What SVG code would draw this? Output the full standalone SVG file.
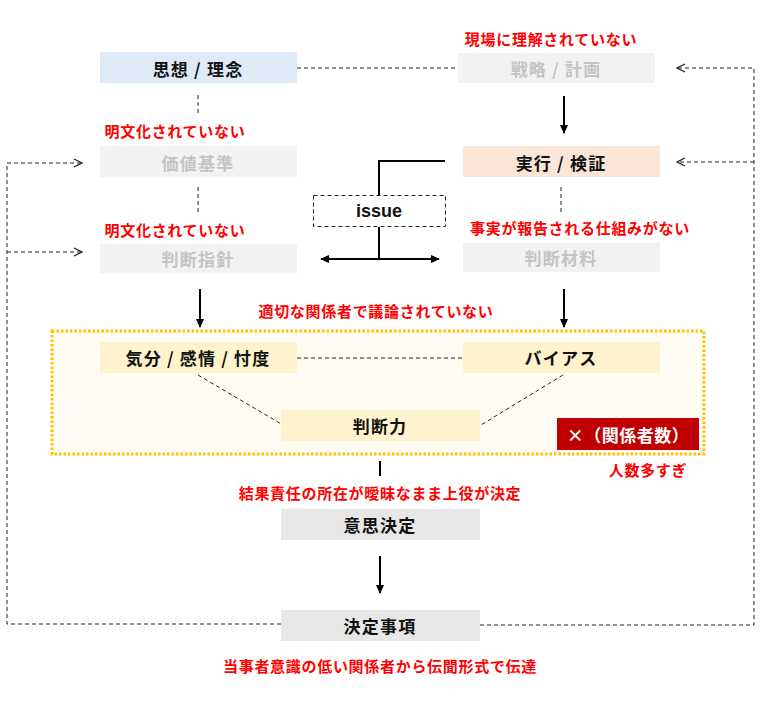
<svg xmlns="http://www.w3.org/2000/svg" width="770" height="705" viewBox="0 0 770 705">
<defs>
<marker id="open" viewBox="0 0 10 10" refX="9" refY="5" markerWidth="10" markerHeight="10" markerUnits="userSpaceOnUse" orient="auto">
<path d="M1,1 L9,5 L1,9" fill="none" stroke="#222" stroke-width="1.2"/>
</marker>
<marker id="solid" viewBox="0 0 10 10" refX="9" refY="5" markerWidth="9" markerHeight="9" markerUnits="userSpaceOnUse" orient="auto-start-reverse">
<path d="M0,0.5 L10,5 L0,9.5 Z" fill="#000"/>
</marker>
</defs>
<style>
text{font-family:"Noto Sans CJK JP","Liberation Sans",sans-serif;font-weight:bold;text-anchor:middle;dominant-baseline:central}
.lbl{font-size:17px;fill:#111;letter-spacing:1.2px}
.dim{font-size:17px;fill:#c4c4c4;letter-spacing:1.2px}
.red{font-size:15px;fill:#ff0000;letter-spacing:0.7px}
.gray{fill:#f2f2f2}
.yel{fill:#fff2cc}
.dash{fill:none;stroke:#222;stroke-width:1;stroke-dasharray:4,3}
.sol{fill:none;stroke:#000;stroke-width:2}
</style>
<rect width="770" height="705" fill="#fff"/>
<g id="container">
<rect x="52" y="331" width="652" height="123" fill="#fffcf3" stroke="#ffc000" stroke-width="3" stroke-dasharray="2.5,2"/>
</g>
<g id="connectors">
<line class="dash" x1="297" y1="68" x2="458" y2="68"/>
<line class="dash" x1="198" y1="95" x2="198" y2="113"/>
<line class="dash" x1="198" y1="187" x2="198" y2="212"/>
<line class="dash" x1="561" y1="187" x2="561" y2="212"/>
<line class="sol" x1="564" y1="96" x2="564" y2="133" marker-end="url(#solid)"/>
<polyline class="sol" points="445,161 379,161 379,195"/>
<line class="sol" x1="379" y1="227" x2="379" y2="259"/>
<line class="sol" x1="321" y1="259" x2="439" y2="259" marker-start="url(#solid)" marker-end="url(#solid)"/>
<line class="sol" x1="200" y1="289" x2="200" y2="327" marker-end="url(#solid)"/>
<line class="sol" x1="564" y1="289" x2="564" y2="327" marker-end="url(#solid)"/>
<line class="dash" x1="297" y1="358" x2="463" y2="358"/>
<line class="dash" x1="198" y1="375" x2="283" y2="425"/>
<line class="dash" x1="563" y1="375" x2="481" y2="425"/>
<line class="sol" x1="380" y1="461" x2="380" y2="476"/>
<line class="sol" x1="380" y1="556" x2="380" y2="593" marker-end="url(#solid)"/>
<polyline class="dash" points="281,624 7,624 7,163 82,163" marker-end="url(#open)"/>
<line class="dash" x1="7" y1="252" x2="82" y2="252" marker-end="url(#open)"/>
<polyline class="dash" points="480,625 754,625 754,68 677,68" marker-end="url(#open)"/>
<line class="dash" x1="754" y1="162" x2="677" y2="162" marker-end="url(#open)"/>
</g>
<g id="n-shisou"><rect x="100" y="52" width="197" height="31" fill="#deebf7"/><text class="lbl" x="198" y="68">思想 / 理念</text></g>
<g id="n-senryaku"><rect x="458" y="53" width="197" height="30" class="gray"/><text class="dim" x="556" y="68">戦略 / 計画</text></g>
<g id="n-kachi"><rect x="100" y="146" width="197" height="31" class="gray"/><text class="dim" x="198" y="162">価値基準</text></g>
<g id="n-jikkou"><rect x="463" y="146" width="197" height="31" fill="#fbe5d6"/><text class="lbl" x="561" y="162">実行 / 検証</text></g>
<g id="n-issue"><rect x="313.5" y="195.5" width="132" height="31" fill="#fff" stroke="#222" stroke-dasharray="4,3"/><text x="379" y="211" style="font-family:'Liberation Sans',sans-serif;font-size:18px;fill:#111">issue</text></g>
<g id="n-shishin"><rect x="100" y="244" width="197" height="29" class="gray"/><text class="dim" x="198" y="258">判断指針</text></g>
<g id="n-zairyou"><rect x="463" y="243" width="197" height="29" class="gray"/><text class="dim" x="561" y="257">判断材料</text></g>
<g id="n-kibun"><rect x="100" y="342" width="197" height="31" class="yel"/><text class="lbl" x="198" y="357">気分 / 感情 / 忖度</text></g>
<g id="n-bias"><rect x="463" y="342" width="197" height="31" class="yel"/><text class="lbl" x="561" y="357">バイアス</text></g>
<g id="n-handanryoku"><rect x="281" y="410" width="199" height="31" class="yel"/><text class="lbl" x="380" y="425">判断力</text></g>
<g id="n-kankeisha"><rect x="557" y="418" width="142" height="32" fill="#c00000"/><text class="lbl" x="628" y="434" style="fill:#fff;letter-spacing:0.5px">×（関係者数）</text></g>
<g id="n-ishikettei"><rect x="281" y="509" width="199" height="31" fill="#e7e7e7"/><text class="lbl" x="380" y="524">意思決定</text></g>
<g id="n-ketteijikou"><rect x="281" y="610" width="199" height="31" fill="#e7e7e7"/><text class="lbl" x="380" y="625">決定事項</text></g>
<g id="labels">
<text class="red" x="551" y="38">現場に理解されていない</text>
<text class="red" x="175" y="130">明文化されていない</text>
<text class="red" x="175" y="229">明文化されていない</text>
<text class="red" x="580" y="227">事実が報告される仕組みがない</text>
<text class="red" x="376" y="310">適切な関係者で議論されていない</text>
<text class="red" x="648" y="469">人数多すぎ</text>
<text class="red" x="380" y="492">結果責任の所在が曖昧なまま上役が決定</text>
<text class="red" x="380" y="665">当事者意識の低い関係者から伝聞形式で伝達</text>
</g>
</svg>
